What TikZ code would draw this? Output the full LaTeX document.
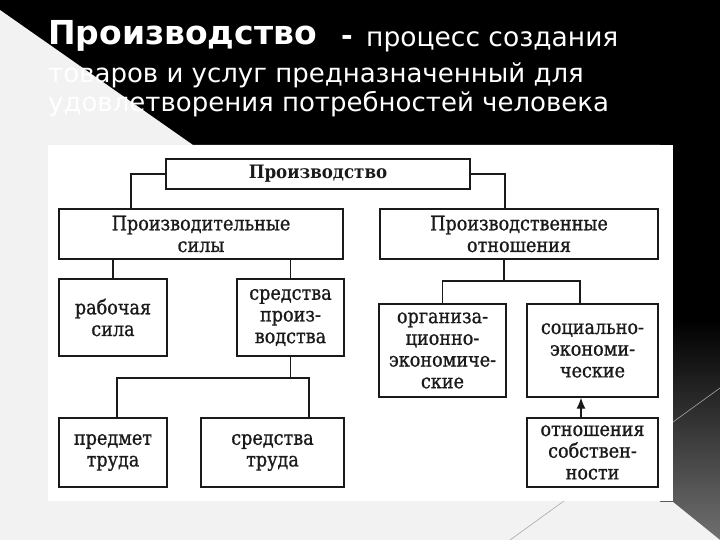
\documentclass[tikz,border=0pt]{standalone}
\usepackage{fontspec}
\setmainfont{DejaVu Serif}
\newfontfamily\boxfont{DejaVu Serif}[FakeStretch=0.88, FakeBold=0.9]
\newfontfamily\boxbold{DejaVu Serif Bold}[FakeStretch=0.9]
\newfontfamily\titlefont{DejaVu Sans}
\usetikzlibrary{arrows.meta}
\definecolor{slidegray}{HTML}{F2F2F2}
\definecolor{ink}{HTML}{1A1A1A}
\definecolor{gradlow}{HTML}{707070}
\definecolor{faintline}{HTML}{A8A8A8}
\tikzset{
  box/.style={draw=ink, line width=1.3pt, fill=white, inner sep=0pt, align=center,
    font=\boxfont\fontsize{20}{21.7}\selectfont, text=ink},
  link/.style={draw=ink, line width=1.2pt},
  titletext/.style={text=white, inner sep=0pt, anchor=base west,
    font=\titlefont\fontsize{26}{30}\selectfont},
  titlebold/.style={text=white, inner sep=0pt, anchor=base west,
    font=\titlefont\bfseries\fontsize{33}{37}\selectfont}
}
\begin{document}
\begin{tikzpicture}[x=1pt,y=-1pt]
\useasboundingbox (0,0) rectangle (720,540);
% slide background
\fill[black] (0,0) rectangle (720,540);
\shade[top color=black, bottom color=gradlow] (600,320) rectangle (720,540);
\fill[slidegray] (0,10) -- (193,145) -- (660,145) -- (660,502) -- (673,502) -- (720,540) -- (0,540) -- cycle;
\draw[faintline, line width=0.6pt] (510,540) -- (720,388);
% title
\node[titlebold] (t1) at (48,45) {Производство};
\node[titlebold, font=\titlefont\bfseries\fontsize{28}{32}\selectfont] (t1d) at (341,46) {-};
\node[titletext, font=\titlefont\fontsize{26.5}{30}\selectfont] (t1b) at (366,47) {процесс создания};
\node[titletext] (t2) at (48,83) {товаров и услуг предназначенный для};
\node[titletext] (t3) at (48,112) {удовлетворения потребностей человека};
% inset picture
\fill[white] (48,145) rectangle (673,501);
% boxes
\node[box, minimum width=304pt, minimum height=30pt, font=\boxbold\fontsize{18.5}{20}\selectfont] (top) at (318,174) {Производство};
\node[box, minimum width=284pt, minimum height=50pt] (ps) at (201,234) {Производительные\\силы};
\node[box, minimum width=278pt, minimum height=50pt] (po) at (519,234) {Производственные\\отношения};
\node[box, minimum width=108pt, minimum height=77pt] (rs) at (113,317.5) {рабочая\\сила};
\node[box, minimum width=107pt, minimum height=77pt] (sp) at (290.5,317.5) {средства\\произ-\\водства};
\node[box, minimum width=108pt, minimum height=69pt] (pt) at (113,452.5) {предмет\\труда};
\node[box, minimum width=143pt, minimum height=69pt] (st) at (272.5,452.5) {средства\\труда};
\node[box, minimum width=127pt, minimum height=93pt] (oe) at (442.5,350.5) {организа-\\ционно-\\экономиче-\\ские};
\node[box, minimum width=131pt, minimum height=93pt] (se) at (592.5,350.5) {социально-\\экономи-\\ческие};
\node[box, minimum width=131pt, minimum height=69pt] (os) at (592.5,452.5) {отношения\\собствен-\\ности};
% connectors
\draw[link] (top.west) -| ([xshift=-70pt]ps.north);
\draw[link] (top.east) -| ([xshift=-14pt]po.north);
\draw[link] (rs.north |- ps.south) -- (rs.north);
\draw[link] (sp.north |- ps.south) -- (sp.north);
\coordinate (j1) at (290.5,378);
\draw[link] (sp.south) -- (j1);
\draw[link] ([xshift=4pt]pt.north) |- (j1) -| ([xshift=36.5pt]st.north);
\coordinate (j2) at (504,281);
\draw[link] ([xshift=-15pt]po.south) -- (j2);
\draw[link] (oe.north) |- (j2) -| ([xshift=-12.5pt]se.north);
\draw[link, -{Latex[length=11pt,width=9pt]}] ([xshift=-11.5pt]os.north) -- ([xshift=-11.5pt]se.south);
\end{tikzpicture}
\end{document}
